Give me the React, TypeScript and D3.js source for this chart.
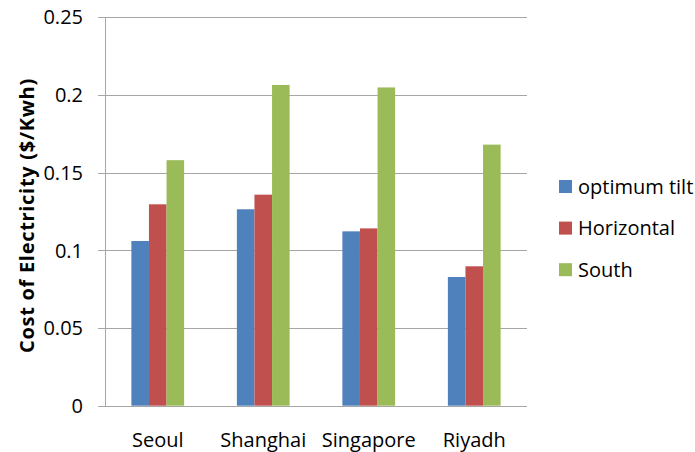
import { useRef, useEffect } from 'react';
import * as d3 from 'd3';

const cities = ['Seoul', 'Shanghai', 'Singapore', 'Riyadh'];
const seriesNames = ['optimum tilt', 'Horizontal', 'South'];
const optimumTilt = [0.106, 0.1264, 0.1122, 0.0828];
const horizontal = [0.1296, 0.1358, 0.1141, 0.0897];
const south = [0.158, 0.2064, 0.2048, 0.168];
const yTicks = [0, 0.05, 0.1, 0.15, 0.2, 0.25];
const colors = ['#4f81bd', '#c0504d', '#9bbb59'];

const W = 695;
const H = 452;
const FONT = "'Open Sans', 'Noto Sans', sans-serif";

export default function App() {
    const svgRef = useRef<SVGSVGElement>(null);

    useEffect(() => {
        if (!svgRef.current) return;
        const svg = d3.select(svgRef.current);
        svg.selectAll('*').remove();

        const left = 105, right = 527, top = 17.2, bottom = 405.7;
        const values = [optimumTilt, horizontal, south];

        const y = d3.scaleLinear().domain([0, 0.25]).range([bottom, top]);
        const x0 = d3.scaleBand().domain(cities).range([left, right]).paddingInner(0.5).paddingOuter(0.25);
        const x1 = d3.scaleBand().domain(seriesNames).range([0, x0.bandwidth()]);

        // gridlines + ticks
        svg.append('g').selectAll('line').data(yTicks).join('line')
            .attr('x1', left - 7).attr('x2', right)
            .attr('y1', d => Math.round(y(d)) + 0.5).attr('y2', d => Math.round(y(d)) + 0.5)
            .attr('stroke', '#a6a6a6').attr('stroke-width', 1);

        svg.append('g').selectAll('text').data(yTicks).join('text')
            .attr('x', left - 22).attr('y', d => y(d))
            .attr('dy', '0.36em')
            .attr('text-anchor', 'end')
            .attr('font-family', FONT).attr('font-size', 20).attr('fill', '#000')
            .text(d => String(d));

        // bars
        seriesNames.forEach((s, si) => {
            svg.append('g').selectAll('rect').data(values[si]).join('rect')
                .attr('x', (_, i) => (x0(cities[i]) ?? 0) + (x1(s) ?? 0))
                .attr('width', x1.bandwidth())
                .attr('y', d => y(d))
                .attr('height', d => bottom - y(d))
                .attr('fill', colors[si]);
        });

        // y axis line
        svg.append('line')
            .attr('x1', left + 0.5).attr('x2', left + 0.5)
            .attr('y1', top).attr('y2', bottom + 0.5)
            .attr('stroke', '#a6a6a6');

        // category labels
        svg.append('g').selectAll('text').data(cities).join('text')
            .attr('x', d => (x0(d) ?? 0) + x0.bandwidth() / 2)
            .attr('y', 446.5)
            .attr('text-anchor', 'middle')
            .attr('font-family', FONT).attr('font-size', 20).attr('fill', '#000')
            .text(d => d);

        // y axis title
        svg.append('text')
            .attr('transform', `translate(34,${215.5}) rotate(-90)`)
            .attr('text-anchor', 'middle')
            .attr('font-family', FONT).attr('font-size', 20).attr('font-weight', 700)
            .attr('letter-spacing', 0.7)
            .attr('fill', '#000')
            .text('Cost of Electricity ($/Kwh)');

        // legend
        const legend = svg.append('g').selectAll('g').data(seriesNames).join('g')
            .attr('transform', (_, i) => `translate(559,${186.5 + i * 41.6})`);
        legend.append('rect')
            .attr('x', 0).attr('y', -6.5).attr('width', 13).attr('height', 13)
            .attr('fill', (_, i) => colors[i]);
        legend.append('text')
            .attr('x', 19).attr('dy', '0.36em')
            .attr('font-family', FONT).attr('font-size', 20).attr('fill', '#000')
            .text(d => d);
    }, []);

    return (
        <svg ref={svgRef} width={W} height={H}
            style={{ position: 'absolute', left: 0, top: 0, display: 'block', background: '#fff' }} />
    );
}
